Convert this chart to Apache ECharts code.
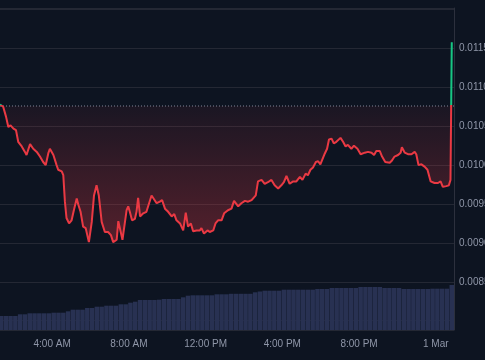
<!DOCTYPE html>
<html><head><meta charset="utf-8">
<script src="https://cdn.jsdelivr.net/npm/echarts@6/dist/echarts.min.js"></script>
<style>html,body{margin:0;padding:0;background:#0d1421;}#c{width:485px;height:360px;}</style>
</head><body><div id="c"></div>
<script>
// ---- data ----
const priceTimes = ['01:17','01:27','01:36','01:43','01:50','01:59','02:07','02:14','02:25','02:35','02:40','02:51','03:01','03:12','03:22','03:32','03:40','03:48','03:53','04:04','04:14','04:19','04:30','04:35','04:40','04:45','04:53','05:01','05:08','05:17','05:22','05:29','05:37','05:45','05:55','06:04','06:11','06:19','06:26','06:35','06:45','06:55','07:04','07:11','07:22','07:27','07:40','07:46','07:53','07:58','08:03','08:10','08:19','08:24','08:29','08:35','08:45','08:55','09:00','09:11','09:16','09:27','09:37','09:44','09:53','10:03','10:14','10:22','10:29','10:40','10:50','10:58','11:05','11:14','11:21','11:32','11:42','11:47','11:55','12:06','12:13','12:24','12:31','12:39','12:50','12:58','13:10','13:21','13:29','13:33','13:42','13:52','14:03','14:13','14:24','14:29','14:37','14:44','14:55','15:05','15:15','15:26','15:36','15:47','15:57','16:05','16:13','16:23','16:34','16:44','16:55','17:03','17:13','17:20','17:28','17:36','17:45','17:52','17:59','18:05','18:13','18:20','18:26','18:34','18:41','18:49','19:02','19:10','19:18','19:25','19:36','19:44','19:55','20:05','20:18','20:28','20:39','20:47','20:54','21:05','21:12','21:22','21:36','21:43','21:51','22:02','22:10','22:14','22:23','22:33','22:44','22:54','22:59','23:06','23:15','23:25','23:34','23:44','23:56','00:07','00:15','00:22','00:33','00:41','00:46','00:50'];
const priceValues = [0.01078,0.01075,0.01062,0.01049,0.01051,0.01047,0.01045,0.01030,0.01024,0.01017,0.01013,0.01027,0.01021,0.01017,0.01011,0.01004,0.01000,0.01015,0.01021,0.01013,0.01000,0.00994,0.00992,0.00987,0.00953,0.00932,0.00925,0.00929,0.00942,0.00957,0.00949,0.00940,0.00921,0.00919,0.00901,0.00927,0.00961,0.00974,0.00961,0.00927,0.00914,0.00914,0.00910,0.00901,0.00904,0.00928,0.00904,0.00906,0.00942,0.00947,0.00940,0.00929,0.00931,0.00940,0.00958,0.00934,0.00938,0.00940,0.00942,0.00961,0.00961,0.00951,0.00953,0.00955,0.00944,0.00940,0.00934,0.00937,0.00929,0.00925,0.00916,0.00939,0.00921,0.00925,0.00915,0.00916,0.00916,0.00919,0.00912,0.00916,0.00914,0.00916,0.00925,0.00929,0.00929,0.00938,0.00942,0.00944,0.00954,0.00955,0.00947,0.00951,0.00954,0.00953,0.00955,0.00953,0.00961,0.00979,0.00981,0.00976,0.00978,0.00981,0.00974,0.00970,0.00974,0.00978,0.00986,0.00976,0.00979,0.00979,0.00985,0.00981,0.00989,0.00987,0.00994,0.00997,0.01004,0.01005,0.01001,0.01002,0.01015,0.01021,0.01033,0.01034,0.01028,0.01030,0.01035,0.01030,0.01024,0.01026,0.01021,0.01025,0.01021,0.01014,0.01016,0.01017,0.01016,0.01013,0.01018,0.01018,0.01011,0.01004,0.01003,0.01006,0.01011,0.01013,0.01016,0.01023,0.01016,0.01014,0.01014,0.01017,0.01014,0.01000,0.01001,0.00998,0.00994,0.00979,0.00977,0.00977,0.00979,0.00972,0.00973,0.00974,0.00981,0.01158];
const volumeStart = '01:20';
const volumeStepMinutes = 15;
const volumeValues = [14,14,14,14,15.7,15.7,16.7,16.7,16.7,16.7,16.7,17.3,17.3,17.3,18.7,20.3,20.3,20.3,22,22,23.3,23.3,24.3,24.3,24.3,25.7,25.7,27.3,28.3,30,30,30,30,30.3,31,31,31,31,32.7,34.3,34.7,34.7,34.7,34.7,34.7,35.7,35.7,35.7,36.2,36.2,36.2,36.2,36.2,37.7,38.5,39.3,39.3,39.3,39.3,40.3,40.3,40.3,40.3,40.3,40.3,40.3,41,41,41,42,42,42,42,42,42,43,43,43,43,43,42,42,42,42,41,41,41,41,41,41,41.3,41.3,41.3,41.3,45];
const baselineValue = 0.01076;
const yTickLabels = ['0.0085','0.0090','0.0095','0.0100','0.0105','0.0110','0.0115'];
const xTickLabels = ['4:00 AM','8:00 AM','12:00 PM','4:00 PM','8:00 PM','1 Mar'];
const axisStart = '01:17', axisEnd = '00:57';
const yMin = 0.00788, yMax = 0.01202;

// ---- helpers ----
const DAY0 = Date.UTC(2024, 1, 29);
const MIN = 60000, HOUR = 3600000;
function hm(s) { const p = s.split(':'); return (+p[0]) * 60 + (+p[1]); }
function toTimes(list) {
  let day = 0, prev = -1;
  return list.map(s => { const m = hm(s); if (m < prev) day++; prev = m; return DAY0 + (day * 1440 + m) * MIN; });
}
const pt = toTimes(priceTimes);
const priceData = pt.map((t, i) => [t, priceValues[i]]);
const v0 = DAY0 + hm(volumeStart) * MIN;
const volumeData = volumeValues.map((v, i) => [v0 + i * volumeStepMinutes * MIN, v]);
const xMin = DAY0 + hm(axisStart) * MIN;
const xMax = DAY0 + (1440 + hm(axisEnd)) * MIN;
const baselineData = [[xMin, baselineValue], [xMax, baselineValue]];
const MONTHS = ['Jan','Feb','Mar','Apr','May','Jun','Jul','Aug','Sep','Oct','Nov','Dec'];
function fmtTime(v) {
  const d = new Date(v); const h = d.getUTCHours(), m = d.getUTCMinutes();
  let s;
  if (h === 0 && m === 0) s = d.getUTCDate() + ' ' + MONTHS[d.getUTCMonth()];
  else s = ((h % 12) || 12) + ':' + String(m).padStart(2, '0') + (h < 12 ? ' AM' : ' PM');
  return xTickLabels.indexOf(s) >= 0 ? s : '';
}
function fmtPrice(v) { const s = v.toFixed(4); return yTickLabels.indexOf(s) >= 0 ? s : ''; }

const RED = '#ea3943', GREEN = '#16c784';
const maxV = Math.max(...priceValues, baselineValue), minV = Math.min(...priceValues, baselineValue);
const off = (maxV - baselineValue) / (maxV - minV);
const FONT = 'Liberation Sans, Arial, sans-serif';

const chart = echarts.init(document.getElementById('c'), null, { renderer: 'canvas' });
chart.setOption({
  animation: false,
  backgroundColor: '#0d1421',
  grid: [
    { left: 0, right: 31, top: 8, bottom: 30, outerBoundsMode: 'none', containLabel: false },
    { left: 0, right: 31, bottom: 30, height: 100, outerBoundsMode: 'none', containLabel: false }
  ],
  xAxis: [
    { type: 'value', gridIndex: 0, min: xMin, max: xMax, show: false, minInterval: 4 * HOUR, maxInterval: 4 * HOUR },
    { type: 'value', gridIndex: 1, min: xMin, max: xMax, minInterval: 4 * HOUR, maxInterval: 4 * HOUR,
      axisLine: { show: false }, axisTick: { show: false }, splitLine: { show: false },
      axisLabel: { formatter: fmtTime, color: '#8f96a8', fontSize: 10, margin: 9, fontFamily: FONT, showMinLabel: false, showMaxLabel: false, hideOverlap: false } }
  ],
  yAxis: [
    { type: 'value', gridIndex: 0, position: 'right', min: yMin, max: yMax, minInterval: 0.0005, maxInterval: 0.0005,
      axisLine: { show: true, lineStyle: { color: '#2c303d', width: 1 } }, axisTick: { show: false },
      splitLine: { show: true, lineStyle: { color: '#242834', width: 1 } },
      axisLabel: { formatter: fmtPrice, color: '#8f96a8', fontSize: 10, margin: 5, fontFamily: FONT, hideOverlap: false } },
    { type: 'value', gridIndex: 1, min: 0, max: 100, show: false, splitLine: { show: false } }
  ],
  series: [
    {
      type: 'line', xAxisIndex: 0, yAxisIndex: 0, data: baselineData, symbol: 'none', z: 2, silent: true,
      lineStyle: { color: '#80879a', type: [1, 2], width: 1 }
    },
    {
      type: 'line', xAxisIndex: 0, yAxisIndex: 0, data: priceData, symbol: 'none', z: 3,
      lineStyle: {
        width: 2,
        color: new echarts.graphic.LinearGradient(0, 0, 0, 1, [
          { offset: 0, color: GREEN }, { offset: off, color: GREEN },
          { offset: off, color: RED }, { offset: 1, color: RED }
        ])
      },
      areaStyle: {
        origin: baselineValue, opacity: 1,
        color: new echarts.graphic.LinearGradient(0, 0, 0, 1, [
          { offset: 0, color: 'rgba(22,199,132,0.30)' },
          { offset: off, color: 'rgba(22,199,132,0.05)' },
          { offset: off, color: 'rgba(234,57,67,0.06)' },
          { offset: 1, color: 'rgba(234,57,67,0.32)' }
        ])
      }
    },
    {
      type: 'bar', xAxisIndex: 1, yAxisIndex: 1, data: volumeData, z: 2,
      barCategoryGap: '6%', itemStyle: { color: '#283152' }
    }
  ]
});
</script></body></html>
